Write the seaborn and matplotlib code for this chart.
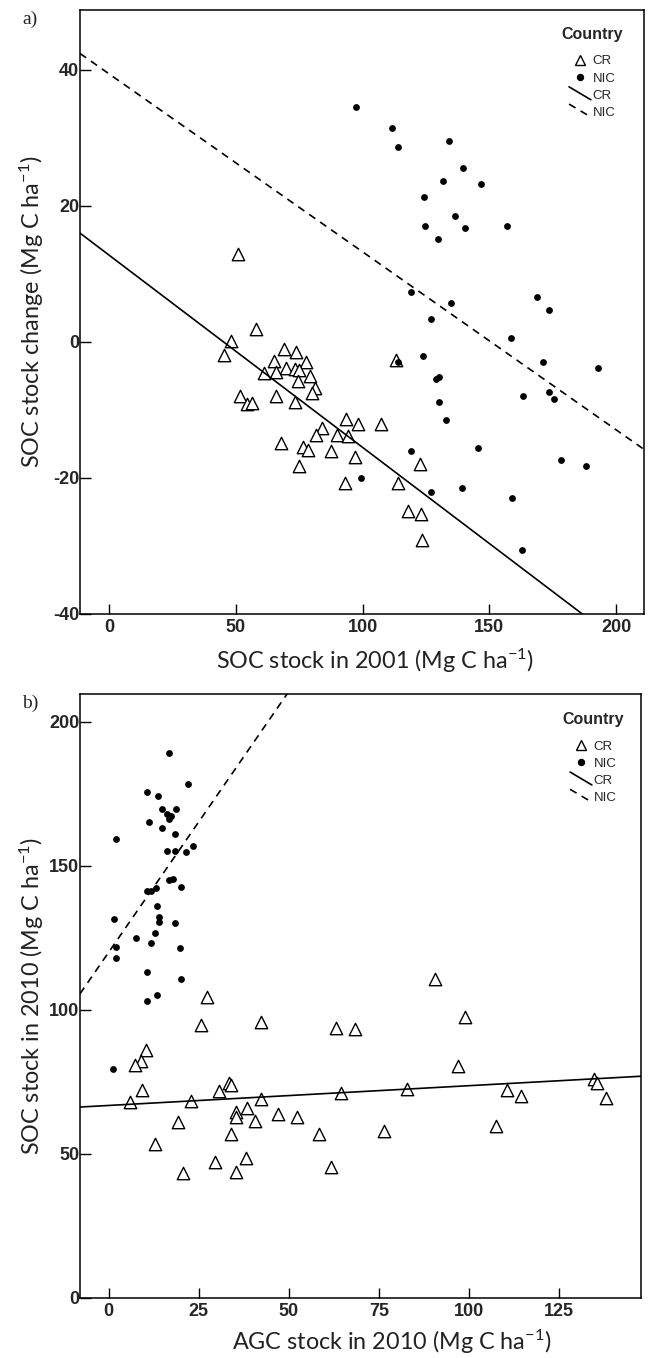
import numpy as np
import pandas as pd
import matplotlib
matplotlib.use("Agg")
import matplotlib.pyplot as plt
import seaborn as sns
from matplotlib.lines import Line2D
from matplotlib.legend_handler import HandlerBase
from matplotlib import font_manager

# ---------------- data ----------------
# Panel a: SOC stock in 2001 vs SOC stock change
a_cr_x = [50.9, 57.8, 48.1, 45.3, 69.0, 73.6, 65.2, 77.7, 69.9, 73.4, 74.9, 65.7, 61.1, 79.1,
          74.5, 81.3, 80.0, 51.6, 65.7, 54.5, 56.3, 73.2, 113.0, 93.3, 98.0, 107.2, 84.1, 81.8,
          90.0, 94.4, 67.8, 76.4, 78.5, 87.5, 97.0, 74.9, 122.5, 92.9, 114.1, 117.7, 123.0, 123.5]
a_cr_y = [12.9, 1.9, 0.1, -1.9, -1.0, -1.5, -2.8, -3.0, -3.8, -4.0, -4.2, -4.4, -4.6, -5.0,
          -5.8, -6.8, -7.5, -8.0, -7.9, -9.1, -9.0, -8.9, -2.6, -11.3, -12.1, -12.0, -12.7, -13.7,
          -13.7, -13.9, -14.8, -15.5, -15.9, -16.0, -16.9, -18.3, -18.0, -20.8, -20.8, -24.9, -25.3, -29.1]
a_nic_x = [97.4, 111.7, 113.8, 134.0, 139.7, 131.7, 146.6, 124.1, 136.5, 124.6, 140.2, 157.1,
           129.9, 119.2, 135.0, 168.8, 173.7, 127.1, 158.6, 124.0, 113.8, 171.3, 192.9, 129.1,
           130.0, 173.7, 163.4, 175.5, 130.0, 133.0, 145.6, 119.0, 178.3, 188.2, 99.5, 139.2,
           127.1, 158.9, 162.9]
a_nic_y = [34.5, 31.5, 28.7, 29.5, 25.6, 23.7, 23.2, 21.3, 18.5, 17.1, 16.7, 17.1,
           15.1, 7.3, 5.7, 6.6, 4.7, 3.4, 0.6, -2.1, -3.0, -3.0, -3.9, -5.5,
           -5.1, -7.4, -7.9, -8.4, -8.9, -11.5, -15.6, -16.0, -17.4, -18.3, -20.0, -21.5,
           -22.1, -22.9, -30.6]
a_fit_cr = [12.75, -0.2826]     # intercept, slope
a_fit_nic = [39.4, -0.2616]
a_xticks = [0, 50, 100, 150, 200]
a_yticks = [-40, -20, 0, 20, 40]

# Panel b: AGC stock in 2010 vs SOC stock in 2010
b_cr_x = [90.6, 27.3, 99.0, 42.4, 25.6, 63.2, 68.4, 10.4, 9.0, 7.3, 97.1, 9.1, 33.3, 33.8,
          30.6, 134.8, 135.5, 82.8, 110.6, 64.6, 114.6, 138.2, 42.2, 22.9, 5.8, 38.5, 35.3,
          47.1, 35.4, 52.4, 40.7, 19.2, 107.4, 76.5, 33.8, 58.4, 12.8, 38.1, 29.6, 61.6, 20.5, 35.3]
b_cr_y = [110.6, 104.6, 97.7, 95.8, 94.7, 93.8, 93.5, 86.2, 82.2, 80.9, 80.4, 72.3, 74.7, 74.1,
          71.8, 76.0, 74.7, 72.5, 72.3, 71.2, 70.3, 69.3, 69.2, 68.5, 68.1, 66.1, 64.7,
          64.0, 62.8, 62.7, 61.3, 61.0, 59.8, 58.1, 56.9, 56.9, 53.4, 48.5, 47.1, 45.6, 43.5, 43.8]
b_nic_x = [16.6, 21.9, 10.5, 13.7, 14.7, 18.6, 16.2, 17.4, 16.7, 11.3, 14.9, 18.4, 1.9, 23.4,
           21.4, 16.3, 18.3, 16.8, 17.8, 20.0, 10.6, 11.6, 13.0, 13.4, 13.9, 13.9, 1.5, 18.4,
           12.7, 7.5, 11.8, 1.9, 19.9, 2.0, 10.5, 20.1, 13.5, 10.6, 1.2]
b_nic_y = [189.1, 178.6, 175.6, 174.2, 169.8, 169.9, 168.2, 167.4, 166.2, 165.3, 163.3, 161.0,
           159.5, 156.9, 155.0, 155.3, 155.3, 145.1, 145.3, 142.8, 141.2, 141.4, 142.2, 136.1,
           132.4, 130.6, 131.5, 130.1, 126.7, 124.9, 123.4, 121.8, 121.5, 117.9, 113.1, 110.9,
           105.1, 103.0, 79.4]
b_fit_cr = [66.85, 0.0686]
b_fit_nic = [120.1, 1.81]
b_xticks = [0, 25, 50, 75, 100, 125]
b_yticks = [0, 50, 100, 150, 200]

countries = ["CR", "NIC"]
legend_title = "Country"

# ---------------- style ----------------
sns.set_theme(style="white")
names = {f.name for f in font_manager.fontManager.ttflist}
narrow = "Liberation Sans Narrow" if "Liberation Sans Narrow" in names else "Liberation Sans"
label_font = "Lato" if "Lato" in names else "DejaVu Sans"
plt.rcParams["font.family"] = [label_font, "DejaVu Sans"]
plt.rcParams["axes.unicode_minus"] = False
plt.rcParams["mathtext.fontset"] = "custom"
plt.rcParams["mathtext.rm"] = label_font
plt.rcParams["mathtext.it"] = label_font
plt.rcParams["mathtext.bf"] = label_font

W, H = 654, 1358
fig = plt.figure(figsize=(W / 100, H / 100), dpi=100)
ax_a = fig.add_axes([80 / W, 1 - 614 / H, 564 / W, 604 / H])
ax_b = fig.add_axes([80 / W, 1 - 1298 / H, 561 / W, 604 / H])


class HandlerDiag(HandlerBase):
    def create_artists(self, legend, orig_handle, xdescent, ydescent, width, height, fontsize, trans):
        ln = Line2D([0, 1], [0, 1])
        ln.update_from(orig_handle)
        ln.set_data([-xdescent, -xdescent + width], [-ydescent + height * 1.3, -ydescent - height * 0.1])
        ln.set_transform(trans)
        return [ln]


DASH = (0, (4.5, 3.5))


def panel(ax, cr_x, cr_y, nic_x, nic_y, fit_cr, fit_nic, xlim, ylim, xticks, yticks,
          xlabel, ylabel, tag, xlab_pos, ylab_pos, leg_anchor):
    cr = pd.DataFrame({"x": cr_x, "y": cr_y, "Country": "CR"})
    nic = pd.DataFrame({"x": nic_x, "y": nic_y, "Country": "NIC"})
    sns.scatterplot(data=cr, x="x", y="y", marker="^", s=80, color="white",
                    edgecolor="black", linewidth=1.0, ax=ax, zorder=3, legend=False)
    sns.scatterplot(data=nic, x="x", y="y", marker="o", s=24, color="black",
                    edgecolor="black", linewidth=0, ax=ax, zorder=3, legend=False)
    xs = np.array(xlim, dtype=float)
    sns.lineplot(x=xs, y=fit_cr[0] + fit_cr[1] * xs, color="black", lw=1.2, ax=ax, zorder=4)
    sns.lineplot(x=xs, y=fit_nic[0] + fit_nic[1] * xs, color="black", lw=1.2,
                 linestyle=DASH, ax=ax, zorder=4)
    ax.set_xlim(xlim)
    ax.set_ylim(ylim)
    ax.set_xticks(xticks, labels=[str(t) for t in xticks], fontfamily=narrow,
                  fontweight="bold", fontsize=13)
    ax.set_yticks(yticks, labels=[str(t) for t in yticks], fontfamily=narrow,
                  fontweight="bold", fontsize=13)
    ax.tick_params(axis="x", direction="in", length=7.2, width=1.0, color="black",
                   bottom=True, pad=3.5)
    ax.tick_params(axis="y", direction="in", length=8.0, width=1.0, color="black",
                   left=True, pad=0.5)
    for sp in ax.spines.values():
        sp.set_color("black")
        sp.set_linewidth(1.1)
    ax.set_xlabel(xlabel, fontsize=16.8, color="#222222")
    ax.set_ylabel(ylabel, fontsize=16.8, color="#222222")
    ax.xaxis.set_label_coords(*xlab_pos)
    ax.yaxis.set_label_coords(*ylab_pos)
    ax.grid(False)
    ax.text(-0.103, 0.985, tag, transform=ax.transAxes, fontsize=14,
            family=["Liberation Serif", "DejaVu Serif"], ha="left", va="center")

    handles = [
        Line2D([], [], marker="^", ls="none", markerfacecolor="white",
               markeredgecolor="black", markersize=7, markeredgewidth=1.0),
        Line2D([], [], marker="o", ls="none", color="black", markersize=4.3),
        Line2D([], [], color="black", lw=1.2),
        Line2D([], [], color="black", lw=1.2, linestyle=DASH),
    ]
    labels = countries + countries
    hmap = {handles[2]: HandlerDiag(), handles[3]: HandlerDiag()}
    leg = ax.legend(handles, labels, title=legend_title, loc="upper right",
                    bbox_to_anchor=leg_anchor, frameon=False, handler_map=hmap,
                    prop={"family": narrow, "size": 9.5}, handlelength=1.65,
                    handletextpad=0.15, labelspacing=0.38, borderpad=0, borderaxespad=0)
    leg.get_title().set_fontfamily("Liberation Sans")
    leg.get_title().set_fontweight("bold")
    leg.get_title().set_fontsize(11.5)
    leg._legend_box.sep = 9.5


panel(ax_a, a_cr_x, a_cr_y, a_nic_x, a_nic_y, a_fit_cr, a_fit_nic,
      (-11.5, 211), (-40, 48.8), a_xticks, a_yticks,
      "SOC stock in 2001 (Mg C ha$^{-1}$)", "SOC stock change (Mg C ha$^{-1}$)",
      "a)", (0.523, -0.054), (-0.061, 0.5), (0.963, 0.972))
panel(ax_b, b_cr_x, b_cr_y, b_nic_x, b_nic_y, b_fit_cr, b_fit_nic,
      (-8.0, 147.8), (0, 209.7), b_xticks, b_yticks,
      "AGC stock in 2010 (Mg C ha$^{-1}$)", "SOC stock in 2010 (Mg C ha$^{-1}$)",
      "b)", (0.556, -0.049), (-0.061, 0.5), (0.970, 0.970))

fig.savefig("out.png", dpi=100)
